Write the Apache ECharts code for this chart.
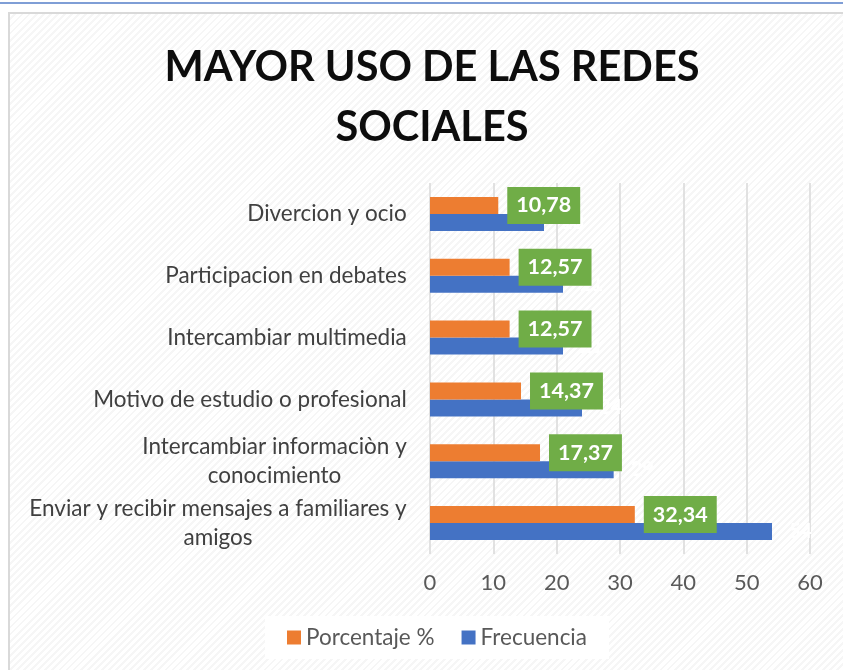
<!DOCTYPE html>
<html>
<head>
<meta charset="utf-8">
<script src="https://cdn.jsdelivr.net/npm/echarts@6/dist/echarts.min.js"></script>
<style>
  html, body { margin: 0; padding: 0; background: #fff; overflow: hidden; }
  #topline { position: absolute; left: 0; top: 2px; width: 843px; height: 2px; background: #7f9ed6; }
  #frame {
    position: absolute; left: 8px; top: 12px; width: 850px; height: 670px;
    border-left: 2px solid #d9d9d9; border-top: 2px solid #d9d9d9;
    background: repeating-linear-gradient(-45deg, #f6f6f6 0px, #f6f6f6 2px, #ffffff 2px, #ffffff 5px);
  }
  #chart { position: absolute; left: 0; top: 0; width: 843px; height: 670px; }
</style>
</head>
<body>
<div id="topline"></div>
<div id="frame"></div>
<div id="chart"></div>
<script>
// categorias de abajo hacia arriba
const categories = [
  'Enviar y recibir mensajes a familiares y\namigos',
  'Intercambiar informaciòn y\nconocimiento',
  'Motivo de estudio o profesional',
  'Intercambiar multimedia',
  'Participacion en debates',
  'Divercion y ocio'
]
const porcentaje = [32.34, 17.37, 14.37, 12.57, 12.57, 10.78]
const frecuencia = [54, 29, 24, 21, 21, 18]
const xTicks = [0, 10, 20, 30, 40, 50, 60]

const labelFont = 'Lato'
const labelSize = 22.5

// ancho de la primera linea para centrar la segunda debajo
const ctx = document.createElement('canvas').getContext('2d')
ctx.font = labelSize + 'px ' + labelFont
const rich = {}
categories.forEach((c, i) => {
  const lines = c.split('\n')
  const w = Math.max(...lines.map(l => ctx.measureText(l).width))
  rich['c' + i] = { width: Math.ceil(w), align: 'center', fontSize: labelSize, fontFamily: labelFont, color: '#404040', lineHeight: 29 }
})

const chart = echarts.init(document.getElementById('chart'))

chart.setOption({
  backgroundColor: 'transparent',
  title: {
    text: 'MAYOR USO DE LAS REDES\nSOCIALES',
    left: 427,
    textAlign: 'center',
    top: 33,
    textStyle: {
      fontFamily: labelFont,
      fontSize: 41.5,
      fontWeight: 'bold',
      color: '#0d0d0d',
      lineHeight: 60
    }
  },
  legend: {
    data: ['Porcentaje %', 'Frecuencia'],
    left: 265,
    top: 616,
    icon: 'rect',
    itemWidth: 14,
    itemHeight: 14,
    itemGap: 27,
    padding: [10, 22],
    backgroundColor: '#ffffff',
    textStyle: { fontFamily: labelFont, fontSize: 22.5, color: '#595959' }
  },
  grid: { left: 430, right: 33, top: 183, bottom: 116, containLabel: false },
  xAxis: {
    type: 'value',
    min: xTicks[0],
    max: xTicks[xTicks.length - 1],
    interval: 10,
    axisLine: { show: false },
    axisTick: { show: false },
    axisLabel: { fontFamily: labelFont, fontSize: 22, color: '#595959', margin: 18 },
    splitLine: { lineStyle: { color: '#d9d9d9', width: 1.5 } }
  },
  yAxis: {
    type: 'category',
    data: categories,
    axisLine: { show: false },
    axisTick: { show: false },
    axisLabel: {
      margin: 23,
      formatter: (v, i) => v.split('\n').map(l => '{c' + i + '|' + l + '}').join('\n'),
      rich: rich
    }
  },
  series: [
    {
      name: 'Porcentaje %',
      type: 'bar',
      data: porcentaje,
      barWidth: 17,
      barGap: '0%',
      itemStyle: { color: '#ed7d31' },
      z: 3,
      label: {
        show: true,
        position: 'right',
        distance: 9,
        formatter: p => p.value.toFixed(2).replace('.', ','),
        backgroundColor: '#70ad47',
        padding: [6, 9, 6, 9],
        lineHeight: 25,
        fontFamily: labelFont,
        fontSize: 21.5,
        fontWeight: 'bold',
        color: '#ffffff'
      }
    },
    {
      name: 'Frecuencia',
      type: 'bar',
      data: frecuencia,
      barWidth: 17,
      barGap: '0%',
      itemStyle: { color: '#4472c4' },
      z: 2,
      label: {
        show: true,
        position: 'right',
        distance: 17,
        fontFamily: labelFont,
        fontSize: 20,
        fontWeight: 'bold',
        color: '#ffffff'
      }
    }
  ]
})
</script>
</body>
</html>
